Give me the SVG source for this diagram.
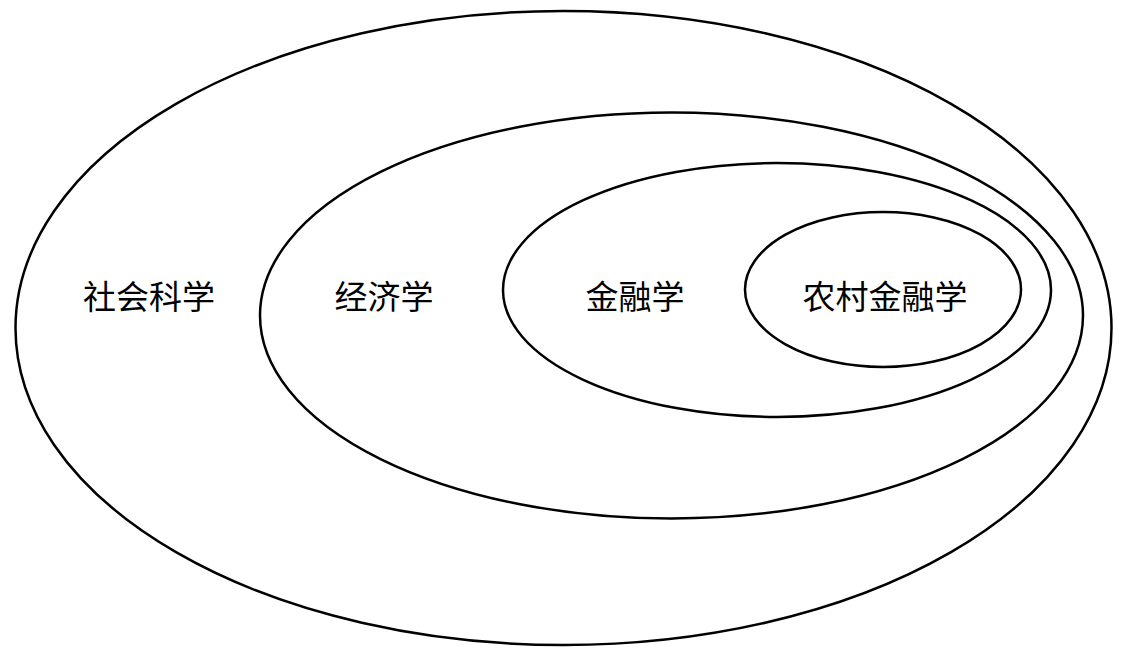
<svg xmlns="http://www.w3.org/2000/svg" width="1125" height="653" viewBox="0 0 1125 653">
<style>
.e{fill:none;stroke:#000;stroke-width:2.5}
.t{font-family:"Noto Sans CJK SC","Noto Sans CJK JP",sans-serif;font-size:33px;fill:#000;text-anchor:middle;dominant-baseline:central}
</style>
<rect width="1125" height="653" fill="#fff"/>
<g id="n1"><ellipse class="e" cx="563.5" cy="328" rx="548" ry="317"/><text class="t" x="149" y="295">社会科学</text></g>
<g id="n2"><ellipse class="e" cx="671.5" cy="315.5" rx="411.5" ry="203"/><text class="t" x="384" y="295">经济学</text></g>
<g id="n3"><ellipse class="e" cx="777" cy="290" rx="274" ry="127"/><text class="t" x="635" y="295">金融学</text></g>
<g id="n4"><ellipse class="e" cx="883" cy="289.5" rx="138" ry="77.5"/><text class="t" x="885" y="295">农村金融学</text></g>
<g id="connectors"/>
</svg>
